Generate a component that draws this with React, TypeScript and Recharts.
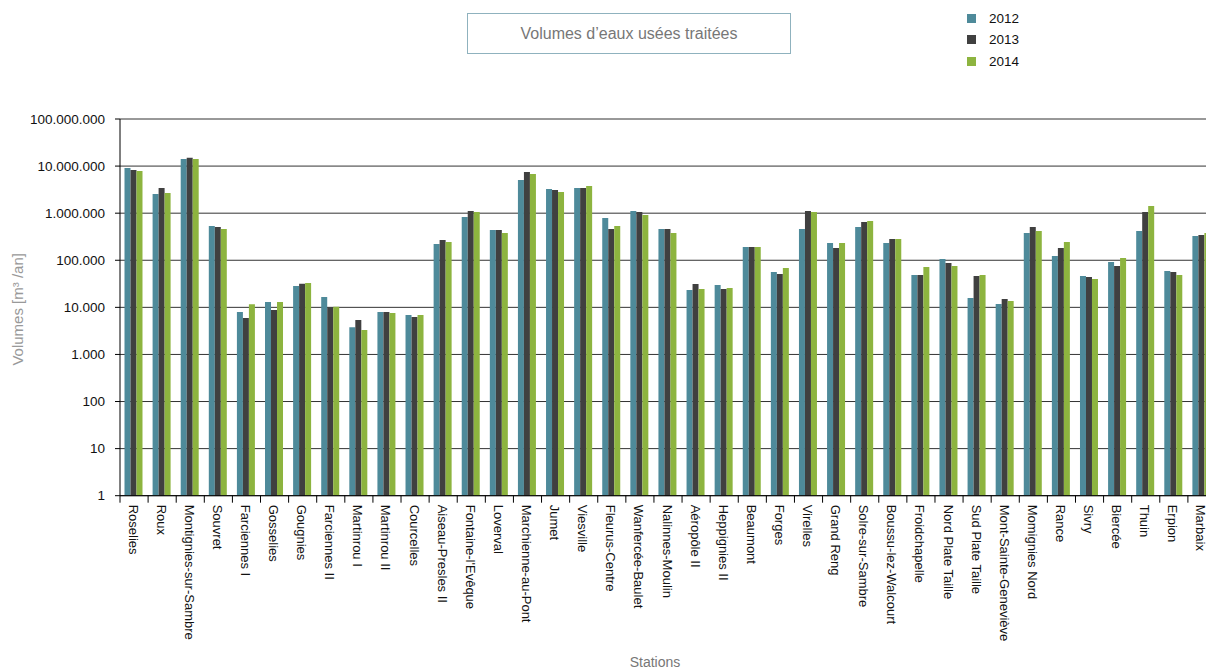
import React from 'react';
import { BarChart, Bar, XAxis, YAxis, CartesianGrid, Legend, Label } from 'recharts';

const categories = [
  'Roselies', 'Roux', 'Montignies-sur-Sambre', 'Souvret', 'Farciennes I', 'Gosselies', 'Gougnies',
  'Farciennes II', 'Martinrou I', 'Martinrou II', 'Courcelles', 'Aiseau-Presles II', "Fontaine-l'Evêque",
  'Loverval', 'Marchienne-au-Pont', 'Jumet', 'Viesville', 'Fleurus-Centre', 'Wanfercée-Baulet',
  'Nalinnes-Moulin', 'Aéropôle II', 'Heppignies II', 'Beaumont', 'Forges', 'Virelles', 'Grand Reng',
  'Solre-sur-Sambre', 'Boussu-lez-Walcourt', 'Froidchapelle', 'Nord Plate Taille', 'Sud Plate Taille',
  'Mont-Sainte-Geneviève', 'Momignies Nord', 'Rance', 'Sivry', 'Biercée', 'Thuin', 'Erpion', 'Marbaix',
];

const values2012 = [
  9100000, 2550000, 14100000, 535000, 8000, 13000, 28400, 16600, 3800, 8000, 6900, 222000, 830000,
  440000, 5070000, 3260000, 3430000, 790000, 1110000, 462000, 23400, 29900, 191000, 56300, 462000, 233000,
  509000, 233000, 48600, 106000, 15800, 11800, 380000, 123000, 46300, 91800, 419000, 59100, 327000,
];

const values2013 = [
  8260000, 3430000, 15100000, 509000, 5950, 8790, 31700, 10000, 5390, 8000, 6240, 269000, 1110000,
  440000, 7490000, 3100000, 3430000, 462000, 1060000, 462000, 31400, 24500, 191000, 51100, 1110000, 182000,
  650000, 283000, 48600, 87400, 46300, 15100, 509000, 182000, 44200, 75500, 1060000, 56300, 343000,
];

const values2014 = [
  7870000, 2680000, 14100000, 462000, 11700, 13000, 32900, 10300, 3300, 7590, 6890, 244000, 1060000,
  380000, 6790000, 2820000, 3780000, 535000, 915000, 380000, 24500, 25800, 191000, 68600, 1060000, 233000,
  683000, 283000, 72000, 75500, 48600, 13600, 419000, 244000, 40000, 112000, 1420000, 48600, 380000,
];

const seriesNames = ['2012', '2013', '2014'];
const seriesColors = ['#4e8a9a', '#404040', '#8db43f'];
const yTicks = [1, 10, 100, 1000, 10000, 100000, 1000000, 10000000, 100000000];

const titleText = 'Volumes d’eaux usées traitées';
const yLabelText = 'Volumes [m³ /an]';
const xLabelText = 'Stations';

const data = categories.map((name, i) => ({
  name,
  '2012': values2012[i],
  '2013': values2013[i],
  '2014': values2014[i],
}));

const FONT = '"Liberation Sans", Arial, Helvetica, sans-serif';
const CHART_WIDTH = 1216;
const CHART_HEIGHT = 670;
const Y_AXIS_WIDTH = 120;
const BAND = (CHART_WIDTH - Y_AXIS_WIDTH) / categories.length;

const formatThousands = (v: number) => String(Math.round(v)).replace(/\B(?=(\d{3})+(?!\d))/g, '.');

const XTick = (props: any) => {
  const { x, y, payload } = props;
  const tx = x - 1;
  return (
    <g>
      <line x1={x - BAND / 2} x2={x - BAND / 2} y1={y - 9} y2={y - 2} stroke="#000" strokeWidth={1} />
      <text
        x={tx}
        y={y}
        transform={`rotate(90 ${tx} ${y})`}
        textAnchor="start"
        dominantBaseline="central"
        fontSize={13}
        fontFamily={FONT}
        fill="#111"
      >
        {payload.value}
      </text>
    </g>
  );
};

const renderLegend = (props: any) => {
  const { payload } = props;
  return (
    <div style={{ fontFamily: FONT }}>
      {payload.map((entry: any) => (
        <div key={entry.value} style={{ display: 'flex', alignItems: 'center', height: 21.3 }}>
          <span style={{ display: 'inline-block', width: 9, height: 9, background: entry.color, marginRight: 13 }} />
          <span style={{ fontSize: 13.5, color: '#111' }}>{entry.value}</span>
        </div>
      ))}
    </div>
  );
};

export default function App() {
  return (
    <div style={{ position: 'absolute', left: 0, top: 0, width: 1206, height: 670, overflow: 'hidden', background: '#fff', fontFamily: FONT }}>
      <div
        style={{
          position: 'absolute',
          left: 467,
          top: 13,
          width: 324,
          height: 41,
          boxSizing: 'border-box',
          border: '1px solid #8fb2be',
          display: 'flex',
          alignItems: 'center',
          justifyContent: 'center',
          fontSize: 16,
          color: '#777',
          zIndex: 2,
        }}
      >
        {titleText}
      </div>
      <BarChart
        width={CHART_WIDTH}
        height={CHART_HEIGHT}
        data={data}
        margin={{ top: 119, right: 0, bottom: 0, left: 0 }}
        barCategoryGap="16%"
        barGap={0}
      >
        <CartesianGrid vertical={false} stroke="#333" strokeWidth={1} />
        <XAxis
          dataKey="name"
          interval={0}
          height={174.3}
          tickLine={false}
          tickSize={7}
          tickMargin={2}
          tick={<XTick />}
          axisLine={{ stroke: '#000' }}
        >
          <Label
            content={(p: any) => {
              const vb = p.viewBox || {};
              return (
                <text
                  x={vb.x + 535}
                  y={vb.y + vb.height - 3}
                  textAnchor="middle"
                  fontSize={14}
                  fontFamily={FONT}
                  fill="#777"
                >
                  {xLabelText}
                </text>
              );
            }}
          />
        </XAxis>
        <YAxis
          type="number"
          scale="log"
          domain={[1, 100000000]}
          allowDataOverflow
          ticks={yTicks}
          interval={0}
          width={Y_AXIS_WIDTH}
          tickSize={5}
          tickMargin={10}
          tickFormatter={formatThousands}
          tick={{ fontSize: 13.5, fill: '#111', fontFamily: FONT }}
          tickLine={{ stroke: '#000' }}
          axisLine={{ stroke: '#000' }}
        >
          <Label
            content={(p: any) => {
              const vb = p.viewBox || {};
              const cx = 18;
              const cy = vb.y + vb.height / 2 + 2;
              return (
                <text
                  x={cx}
                  y={cy}
                  transform={`rotate(-90 ${cx} ${cy})`}
                  textAnchor="middle"
                  dominantBaseline="central"
                  fontSize={15}
                  fontFamily={FONT}
                  fill="#999"
                >
                  {yLabelText}
                </text>
              );
            }}
          />
        </YAxis>
        <Legend
          layout="horizontal"
          verticalAlign="middle"
          align="center"
          content={renderLegend}
          wrapperStyle={{ position: 'absolute', left: 967, top: 8, width: 90, height: 70 }}
        />
        {seriesNames.map((s, i) => (
          <Bar key={s} dataKey={s} name={s} fill={seriesColors[i]} isAnimationActive={false} />
        ))}
      </BarChart>
    </div>
  );
}
